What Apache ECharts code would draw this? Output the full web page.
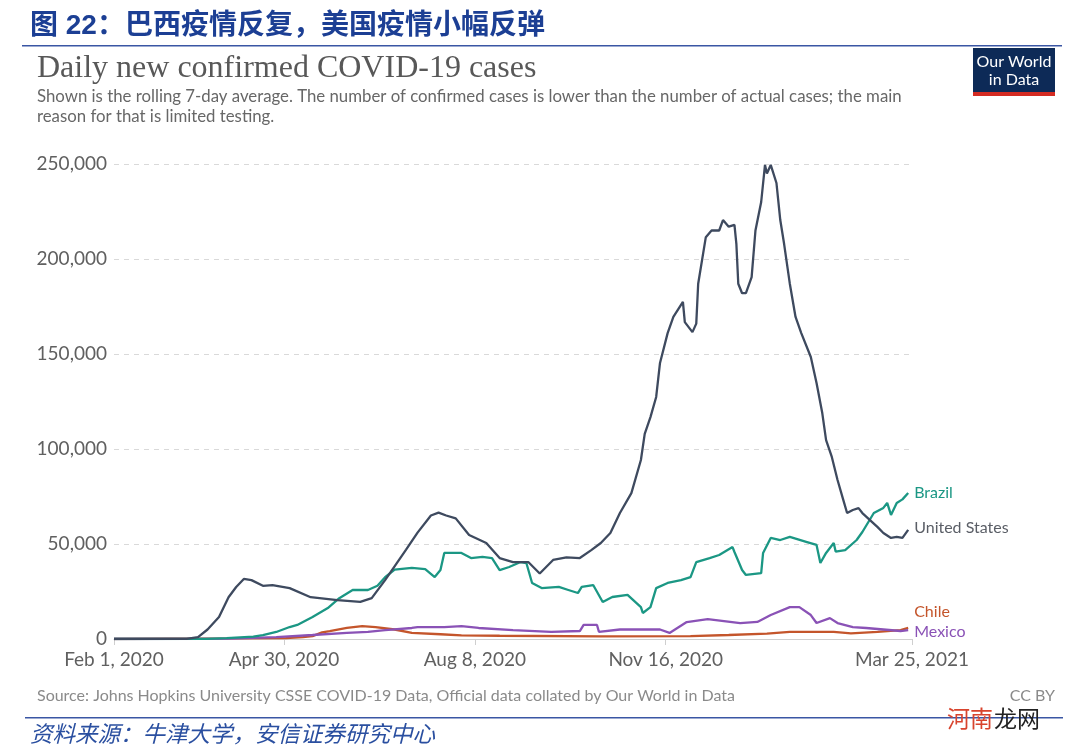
<!DOCTYPE html>
<html>
<head>
<meta charset="utf-8">
<script src="https://cdn.jsdelivr.net/npm/echarts@6/dist/echarts.min.js"></script>
<style>
html,body{margin:0;padding:0;background:#fff;}
#chart{width:1080px;height:755px;}
</style>
</head>
<body>
<div id="chart"></div>
<script>
// ---- data (7-day rolling average of daily new confirmed cases) ----
const xTickDates = ["2020-02-01", "2020-04-30", "2020-08-08", "2020-11-16", "2021-03-25"];
const yTicks = [0, 50000, 100000, 150000, 200000, 250000];

const usData = [
  ["2020-02-01",0],["2020-03-10",100],["2020-03-16",1000],["2020-03-21",5000],["2020-03-27",11600],
  ["2020-04-01",22000],["2020-04-05",27400],["2020-04-09",31600],["2020-04-13",31000],["2020-04-19",28000],
  ["2020-04-24",28400],["2020-05-03",26800],["2020-05-14",22000],["2020-05-28",20500],["2020-06-09",19500],
  ["2020-06-15",21500],["2020-06-22",31000],["2020-07-03",47000],["2020-07-09",56000],["2020-07-16",65000],
  ["2020-07-20",66500],["2020-07-24",65000],["2020-07-29",63500],["2020-08-05",54700],["2020-08-14",50500],
  ["2020-08-21",42600],["2020-08-28",40500],["2020-09-05",40500],["2020-09-11",34500],["2020-09-18",41600],
  ["2020-09-25",43000],["2020-10-02",42600],["2020-10-08",46800],["2020-10-13",50500],["2020-10-18",55800],
  ["2020-10-23",66300],["2020-10-29",76800],["2020-11-03",94200],["2020-11-05",108000],["2020-11-08",116800],
  ["2020-11-11",127400],["2020-11-13",145300],["2020-11-17",161000],["2020-11-20",169500],["2020-11-25",177400],
  ["2020-11-26",166800],["2020-11-30",161500],["2020-12-02",166000],["2020-12-03",187000],["2020-12-07",211500],
  ["2020-12-10",215000],["2020-12-14",215000],["2020-12-16",220500],["2020-12-19",217000],["2020-12-22",218000],
  ["2020-12-23",208000],["2020-12-24",187000],["2020-12-26",182000],["2020-12-28",182000],["2020-12-31",190500],
  ["2021-01-02",215000],["2021-01-05",230000],["2021-01-07",249500],["2021-01-08",245000],["2021-01-10",249500],
  ["2021-01-13",240000],["2021-01-15",220500],["2021-01-17",208000],["2021-01-20",187000],["2021-01-23",169500],
  ["2021-01-26",161000],["2021-01-31",148400],["2021-02-03",134700],["2021-02-06",118900],["2021-02-08",104700],
  ["2021-02-11",95800],["2021-02-14",83700],["2021-02-17",73200],["2021-02-19",66300],["2021-02-22",67900],
  ["2021-02-25",68900],["2021-02-27",66300],["2021-03-03",62600],["2021-03-07",58900],["2021-03-10",55800],
  ["2021-03-14",53200],["2021-03-17",53700],["2021-03-20",53200],["2021-03-23",57400]
];

const brazilData = [
  ["2020-02-01",0],["2020-03-20",100],["2020-03-31",500],["2020-04-14",1200],["2020-04-19",2100],
  ["2020-04-26",3700],["2020-05-03",6300],["2020-05-07",7400],["2020-05-15",11600],["2020-05-23",16300],
  ["2020-05-29",21500],["2020-06-05",25800],["2020-06-13",25800],["2020-06-18",28000],["2020-06-22",32500],
  ["2020-06-27",36500],["2020-07-06",37400],["2020-07-13",36800],["2020-07-18",32600],["2020-07-21",36300],
  ["2020-07-23",45300],["2020-08-01",45300],["2020-08-06",42600],["2020-08-12",43200],["2020-08-17",42600],
  ["2020-08-21",36300],["2020-08-26",37900],["2020-09-01",40500],["2020-09-04",40000],["2020-09-07",29500],
  ["2020-09-12",26800],["2020-09-21",27400],["2020-09-26",25800],["2020-10-01",24200],["2020-10-03",27400],
  ["2020-10-09",28400],["2020-10-14",19500],["2020-10-19",22100],["2020-10-27",23200],["2020-11-03",16800],
  ["2020-11-04",13700],["2020-11-08",16800],["2020-11-11",26800],["2020-11-17",29500],["2020-11-24",31000],
  ["2020-11-29",32600],["2020-12-02",40500],["2020-12-09",42600],["2020-12-14",44200],["2020-12-21",48400],
  ["2020-12-22",45800],["2020-12-26",36300],["2020-12-28",33700],["2021-01-05",34700],["2021-01-06",45300],
  ["2021-01-10",53200],["2021-01-15",52100],["2021-01-20",53700],["2021-01-29",51000],["2021-02-03",49500],
  ["2021-02-05",40000],["2021-02-08",45300],["2021-02-12",50500],["2021-02-13",46000],["2021-02-18",46800],
  ["2021-02-24",52100],["2021-02-27",56300],["2021-03-05",66300],["2021-03-10",69000],["2021-03-12",71600],
  ["2021-03-14",65300],["2021-03-17",71600],["2021-03-20",73500],["2021-03-23",76800]
];

const chileData = [
  ["2020-02-01",0],["2020-04-01",300],["2020-05-01",500],["2020-05-10",1000],["2020-05-15",1500],
  ["2020-05-20",3500],["2020-05-24",4200],["2020-06-02",5800],["2020-06-10",6800],["2020-06-17",6300],
  ["2020-06-27",5000],["2020-07-06",3200],["2020-07-21",2500],["2020-08-01",1900],["2020-08-21",1700],
  ["2020-10-13",1400],["2020-11-29",1500],["2020-12-19",2100],["2021-01-08",2800],["2021-01-20",3700],
  ["2021-02-12",3700],["2021-02-21",3000],["2021-03-07",3700],["2021-03-19",4700],["2021-03-23",5800]
];

const mexicoData = [
  ["2020-02-01",0],["2020-04-01",200],["2020-04-26",1000],["2020-05-15",2100],["2020-06-02",3200],
  ["2020-06-13",3700],["2020-06-22",4700],["2020-07-06",5800],["2020-07-09",6300],["2020-07-23",6300],
  ["2020-08-01",6800],["2020-08-10",5800],["2020-08-28",4700],["2020-09-17",3800],["2020-10-02",4200],
  ["2020-10-04",7400],["2020-10-11",7400],["2020-10-12",3800],["2020-10-23",5000],["2020-11-13",5000],
  ["2020-11-18",3200],["2020-11-27",8900],["2020-12-08",10500],["2020-12-25",8400],["2021-01-03",9000],
  ["2021-01-10",12600],["2021-01-20",16800],["2021-01-25",16800],["2021-01-31",12600],["2021-02-03",8400],
  ["2021-02-10",11000],["2021-02-14",8400],["2021-02-22",6300],["2021-03-01",5800],["2021-03-19",4200],
  ["2021-03-23",4700]
];

// ---- helpers: dates -> day number since the first date ----
const months = ["Jan","Feb","Mar","Apr","May","Jun","Jul","Aug","Sep","Oct","Nov","Dec"];
function utc(s){ const p = s.split("-"); return Date.UTC(+p[0], +p[1]-1, +p[2]); }
const T0 = utc(xTickDates[0]);
function dayNum(s){ return Math.round((utc(s) - T0) / 86400000); }
function dayLabel(n){ const d = new Date(T0 + n * 86400000); return months[d.getUTCMonth()] + " " + d.getUTCDate() + ", " + d.getUTCFullYear(); }
function toXY(arr){ return arr.map(function(p){ return [dayNum(p[0]), p[1]]; }); }
const tickDays = xTickDates.map(dayNum);
const LATO = "Lato, 'Noto Sans', sans-serif";

const chart = echarts.init(document.getElementById("chart"), null, {renderer: "canvas"});

function lineSeries(name, data, color, labelColor, offset){
  return {
    name: name, type: "line", data: toXY(data), showSymbol: false, symbol: "none",
    lineStyle: {color: color, width: 2.3}, itemStyle: {color: color},
    endLabel: {show: true, formatter: name, color: labelColor, fontFamily: LATO, fontSize: 16, distance: 6, offset: offset},
    emphasis: {disabled: true}, silent: true, animation: false, z: 3
  };
}

const option = {
  animation: false,
  backgroundColor: "#ffffff",
  grid: {left: 114, right: 168, top: 164, bottom: 116},
  xAxis: {
    type: "value",
    min: tickDays[0], max: tickDays[tickDays.length - 1],
    axisLine: {show: true, onZero: false, lineStyle: {color: "#cfcfcf", width: 1}},
    axisTick: {show: true, customValues: tickDays, length: 6, lineStyle: {color: "#cfcfcf"}},
    axisLabel: {
      customValues: tickDays, color: "#606060", fontFamily: LATO, fontSize: 19, margin: 11,
      formatter: function(v){ return dayLabel(v); }
    },
    splitLine: {show: false}
  },
  yAxis: {
    type: "value", min: yTicks[0], max: yTicks[yTicks.length - 1], interval: 50000,
    axisLine: {show: false}, axisTick: {show: false},
    axisLabel: {color: "#606060", fontFamily: LATO, fontSize: 19, margin: 7,
      formatter: function(v){ return v.toLocaleString("en-US"); }},
    splitLine: {show: true, lineStyle: {color: "#d9d9d9", type: [5, 5], width: 1}}
  },
  series: [
    lineSeries("Chile", chileData, "#c4552b", "#c4552b", [0, -16]),
    lineSeries("Mexico", mexicoData, "#8a52b6", "#8a52b6", [0, 2]),
    lineSeries("Brazil", brazilData, "#1b9784", "#1b9784", [0, 0]),
    lineSeries("United States", usData, "#3e4a5f", "#5a5e66", [0, -2])
  ],
  graphic: [
    {type: "text", left: 30, top: 12, style: {text: "图 22：巴西疫情反复，美国疫情小幅反弹", fill: "#1c3f94",
      font: "bold 28px 'Liberation Sans', 'Noto Sans CJK SC', sans-serif"}},
    {type: "rect", shape: {x: 22, y: 45, width: 1040, height: 1.5}, style: {fill: "#3a56a4"}},
    {type: "text", left: 37, top: 53, style: {text: "Daily new confirmed COVID-19 cases", fill: "#585858",
      font: "32px 'Liberation Serif', 'DejaVu Serif', serif"}},
    {type: "text", left: 37, top: 87, style: {text: "Shown is the rolling 7-day average. The number of confirmed cases is lower than the number of actual cases; the main\nreason for that is limited testing.",
      fill: "#676767", font: "16.8px Lato, 'Noto Sans', sans-serif", lineHeight: 20}},
    {type: "rect", shape: {x: 973, y: 48, width: 82, height: 48}, style: {fill: "#0d2a57"}},
    {type: "rect", shape: {x: 973, y: 92, width: 82, height: 4}, style: {fill: "#d42b22"}},
    {type: "text", x: 1014, y: 62, style: {text: "Our World", fill: "#ffffff", align: "center", verticalAlign: "middle",
      font: "16px Lato, 'Noto Sans', sans-serif"}},
    {type: "text", x: 1014, y: 80, style: {text: "in Data", fill: "#ffffff", align: "center", verticalAlign: "middle",
      font: "16px Lato, 'Noto Sans', sans-serif"}},
    {type: "text", left: 37, top: 688, style: {text: "Source: Johns Hopkins University CSSE COVID-19 Data, Official data collated by Our World in Data",
      fill: "#8a8a8a", font: "16px Lato, 'Noto Sans', sans-serif"}},
    {type: "text", right: 25, top: 688, style: {text: "CC BY", fill: "#8a8a8a", font: "16px Lato, 'Noto Sans', sans-serif"}},
    {type: "rect", shape: {x: 25, y: 717, width: 1038, height: 1.5}, style: {fill: "#3a56a4"}},
    {type: "text", left: 30, top: 722, style: {text: "资料来源：牛津大学，安信证券研究中心", fill: "#2a4fa0",
      font: "italic 22.5px 'Noto Sans CJK SC', sans-serif"}},
    {type: "text", left: 947, top: 707, style: {text: "河南", fill: "#d8442e", font: "23px 'Noto Sans CJK SC', sans-serif"}},
    {type: "text", left: 994, top: 707, style: {text: "龙网", fill: "#222222", font: "23px 'Noto Sans CJK SC', sans-serif"}}
  ]
};
chart.setOption(option);
</script>
</body>
</html>
